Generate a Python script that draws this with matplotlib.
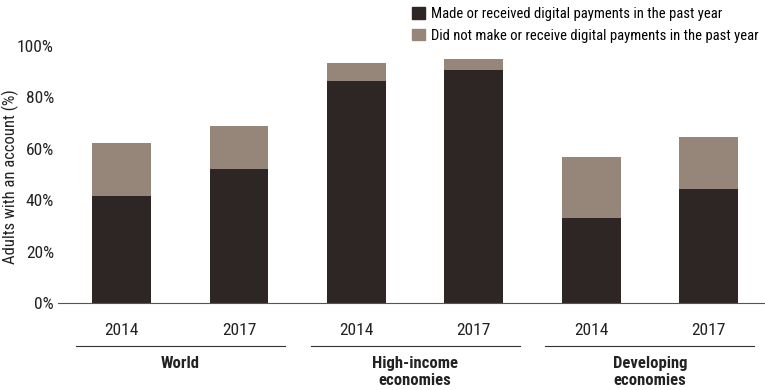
import matplotlib
matplotlib.use("Agg")
import matplotlib.pyplot as plt
import matplotlib.font_manager as fm
from matplotlib.patches import Patch

# pick a condensed sans if one is installed, else a plain one
available = set(f.name for f in fm.fontManager.ttflist)
condensed = ['Roboto Condensed', 'Archivo Narrow', 'PT Sans Narrow',
             'IBM Plex Sans Condensed', 'Fira Sans Condensed', 'Liberation Sans Narrow']
chosen = [n for n in condensed if n in available][:1]
plt.rcParams['font.family'] = chosen + ['Liberation Sans', 'DejaVu Sans']
narrow = bool(chosen)

# data
groups = ['World', 'High-income\neconomies', 'Developing\neconomies']
years = ['2014', '2017', '2014', '2017', '2014', '2017']
digital = [41.5, 52.3, 86.3, 90.8, 33.0, 44.4]
total = [62.2, 69.0, 93.2, 94.8, 56.9, 64.7]
no_digital = [t - d for t, d in zip(total, digital)]

dark = '#2d2624'
light = '#958679'
fs = 12.5 if narrow else 10
fs_leg = 10.5 if narrow else 9

fig = plt.figure(figsize=(7.65, 3.9), dpi=100)
ax = fig.add_axes([0.076, 0.223, 0.924, 0.659])

x = list(range(len(years)))
ax.bar(x, digital, width=0.5, color=dark)
ax.bar(x, no_digital, width=0.5, bottom=digital, color=light)

ax.set_xlim(-0.54, 5.48)
ax.set_ylim(0, 100)
ticks = [0, 20, 40, 60, 80, 100]
ax.set_yticks(ticks)
ax.set_yticklabels([f'{v}%' for v in ticks], fontsize=fs, color='#222222')
ax.tick_params(axis='y', length=0, pad=3)
ax.set_xticks([])
for s in ['top', 'right', 'left']:
    ax.spines[s].set_visible(False)
ax.spines['bottom'].set_color('#555555')
ax.spines['bottom'].set_linewidth(0.8)
fig.text(0.014, 0.548, 'Adults with an account (%)', rotation=90, ha='center',
         va='center', fontsize=fs - 0.5, color='#222222')

# year labels and group labels under the axis
trans = ax.get_xaxis_transform()
for i, yr in enumerate(years):
    ax.text(i, -0.105, yr, transform=trans, ha='center', va='center',
            fontsize=fs, color='#222222')
for g, name in enumerate(groups):
    c = 2 * g + 0.5
    ax.plot([c - 0.89, c + 0.89], [-0.167, -0.167], transform=trans,
            color='#333333', lw=0.8, clip_on=False)
    ax.text(c, -0.205, name, transform=trans, ha='center', va='top',
            fontsize=fs - 0.5, fontweight='bold', linespacing=1.2, color='#222222')

handles = [Patch(color=dark, label='Made or received digital payments in the past year'),
           Patch(color=light, label='Did not make or receive digital payments in the past year')]
fig.legend(handles=handles, loc='upper left', bbox_to_anchor=(0.522, 1.015),
           frameon=False, fontsize=fs_leg, handlelength=0.85, handleheight=0.85,
           handletextpad=0.45, labelspacing=0.5)

fig.savefig('out.png', dpi=100)
